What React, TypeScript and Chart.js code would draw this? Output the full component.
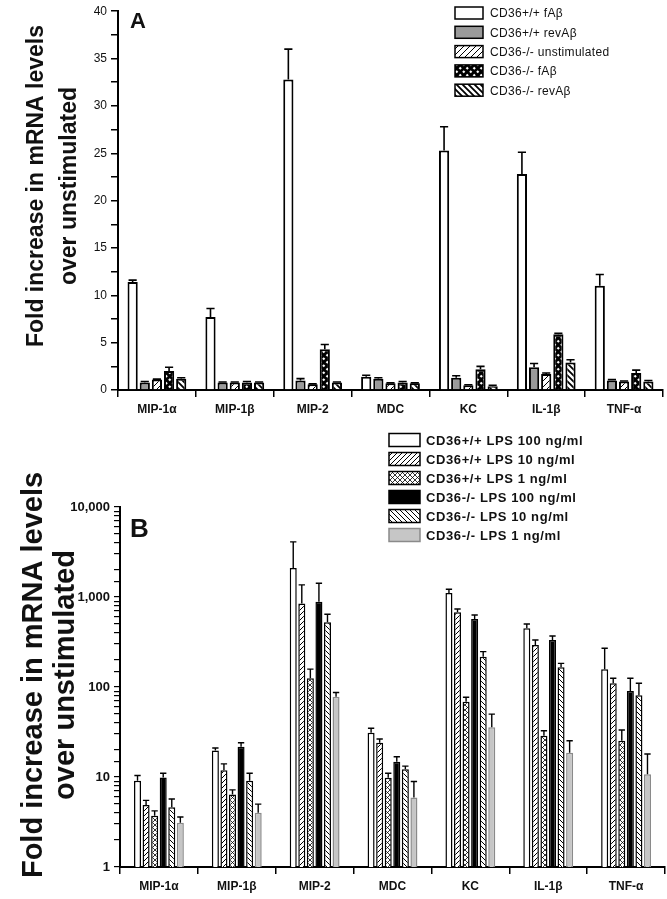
import React, { useEffect, useRef } from 'react';
import { Chart, registerables } from 'chart.js';
Chart.register(...registerables);

const FONT = "'Liberation Sans', Arial, Helvetica, sans-serif";

const categories = ['MIP-1α', 'MIP-1β', 'MIP-2', 'MDC', 'KC', 'IL-1β', 'TNF-α'];

// ---------- Panel A (linear) ----------
const seriesA = ['CD36+/+ fAβ', 'CD36+/+ revAβ', 'CD36-/- unstimulated', 'CD36-/- fAβ', 'CD36-/- revAβ'];
const aWtFab = [11.4, 7.7, 32.8, 1.4, 25.3, 22.8, 11.0];
const aWtFabErr = [11.6, 8.6, 36.0, 1.55, 27.8, 25.1, 12.2];
const aWtRev = [0.8, 0.8, 1.0, 1.2, 1.3, 2.4, 1.0];
const aWtRevErr = [0.9, 0.85, 1.2, 1.3, 1.5, 2.8, 1.1];
const aKoUnstim = [1.1, 0.8, 0.6, 0.7, 0.5, 1.7, 0.9];
const aKoUnstimErr = [1.15, 0.85, 0.65, 0.75, 0.55, 1.8, 0.95];
const aKoFab = [2.0, 0.8, 4.3, 0.8, 2.2, 5.9, 1.8];
const aKoFabErr = [2.4, 0.9, 4.8, 0.9, 2.5, 6.0, 2.1];
const aKoRev = [1.2, 0.8, 0.8, 0.7, 0.4, 2.9, 0.9];
const aKoRevErr = [1.3, 0.85, 0.85, 0.75, 0.5, 3.2, 1.0];
const aTickMax = 40;
const aTickStep = 2.5;
const aLabelStep = 5;

// ---------- Panel B (log) ----------
const seriesB = [
  'CD36+/+ LPS 100 ng/ml',
  'CD36+/+ LPS 10 ng/ml',
  'CD36+/+ LPS 1 ng/ml',
  'CD36-/- LPS 100 ng/ml',
  'CD36-/- LPS 10 ng/ml',
  'CD36-/- LPS 1 ng/ml',
];
const bWt100 = [9.1, 19.7, 2100, 31, 1110, 449, 157];
const bWt100Err = [10.4, 21, 4100, 34.8, 1217, 501, 269];
const bWt10 = [4.9, 11.9, 845, 24, 676, 293, 110];
const bWt10Err = [5.5, 14, 1365, 26.4, 736, 333, 125];
const bWt1 = [3.7, 6.4, 125, 9.8, 68.7, 28.8, 25.3];
const bWt1Err = [4.2, 7.2, 158, 11, 76.8, 32.7, 33.3];
const bKo100 = [9.9, 21.7, 887, 14.8, 570, 333, 90];
const bKo100Err = [11, 24, 1420, 16.8, 631, 369, 125];
const bKo10 = [4.6, 9.1, 523, 12.2, 217, 166, 80.8];
const bKo10Err = [5.7, 11, 642, 13.2, 247, 183, 110];
const bKo1 = [3.1, 4.0, 78, 5.9, 35.7, 18.6, 10.7];
const bKo1Err = [3.6, 5.0, 87, 8.9, 50, 25.3, 18];
const bMin = 1;
const bMax = 10000;

// ---------- patterns ----------
function linePattern(size: number, bg: string, fg: string, lw: number, dirs: string[]) {
  const c = document.createElement('canvas');
  c.width = size;
  c.height = size;
  const g = c.getContext('2d')!;
  g.fillStyle = bg;
  g.fillRect(0, 0, size, size);
  g.strokeStyle = fg;
  g.lineWidth = lw;
  for (const d of dirs) {
    g.beginPath();
    if (d === '/') {
      g.moveTo(0, size); g.lineTo(size, 0);
      g.moveTo(-size / 2, size / 2); g.lineTo(size / 2, -size / 2);
      g.moveTo(size / 2, size * 1.5); g.lineTo(size * 1.5, size / 2);
    } else {
      g.moveTo(0, 0); g.lineTo(size, size);
      g.moveTo(-size / 2, size / 2); g.lineTo(size / 2, size * 1.5);
      g.moveTo(size / 2, -size / 2); g.lineTo(size * 1.5, size / 2);
    }
    g.stroke();
  }
  return g.createPattern(c, 'repeat')!;
}

function dotPattern(size: number) {
  const c = document.createElement('canvas');
  c.width = size;
  c.height = size;
  const g = c.getContext('2d')!;
  g.fillStyle = '#000';
  g.fillRect(0, 0, size, size);
  g.fillStyle = '#fff';
  const r = size * 0.22;
  for (const [cx, cy] of [[size * 0.25, size * 0.25], [size * 0.75, size * 0.75]]) {
    g.beginPath();
    g.moveTo(cx, cy - r); g.lineTo(cx + r, cy); g.lineTo(cx, cy + r); g.lineTo(cx - r, cy);
    g.closePath();
    g.fill();
  }
  return g.createPattern(c, 'repeat')!;
}

// ---------- plugins ----------
function errPlugin(tops: number[][], lw: number, capRatio: number) {
  return {
    id: 'errBars',
    afterDatasetsDraw(chart: any) {
      const ctx = chart.ctx;
      const yScale = chart.scales.y;
      ctx.save();
      ctx.strokeStyle = '#000';
      ctx.lineWidth = lw;
      tops.forEach((arr, di) => {
        const meta = chart.getDatasetMeta(di);
        meta.data.forEach((bar: any, j: number) => {
          const top = arr[j];
          const val = chart.data.datasets[di].data[j];
          if (top == null || top <= val) return;
          const { x, y, width } = bar.getProps(['x', 'y', 'width'], true);
          const ey = yScale.getPixelForValue(top);
          const hw = (width * capRatio) / 2;
          ctx.beginPath();
          ctx.moveTo(x, y);
          ctx.lineTo(x, ey);
          ctx.moveTo(x - hw, ey);
          ctx.lineTo(x + hw, ey);
          ctx.stroke();
        });
      });
      ctx.restore();
    },
  };
}

function decorPlugin(cfg: any) {
  return {
    id: 'decor',
    afterDraw(chart: any) {
      const ctx = chart.ctx;
      ctx.save();
      // panel letter
      ctx.fillStyle = '#111';
      ctx.font = cfg.letterFont;
      ctx.textAlign = 'left';
      ctx.textBaseline = 'alphabetic';
      ctx.fillText(cfg.letter, cfg.letterX, cfg.letterY);
      // y title
      ctx.font = cfg.titleFont;
      ctx.textAlign = 'center';
      ctx.textBaseline = 'middle';
      cfg.titleLines.forEach((l: string, i: number) => {
        ctx.save();
        ctx.translate(cfg.titleXs[i], cfg.titleCY);
        ctx.rotate(-Math.PI / 2);
        ctx.fillText(l, 0, 0);
        ctx.restore();
      });
      // legend
      chart.data.datasets.forEach((ds: any, i: number) => {
        const cy = cfg.legY0 + i * cfg.legDY;
        const bx = cfg.legBoxX;
        const by = cy - cfg.legBoxH / 2;
        ctx.fillStyle = ds.backgroundColor;
        ctx.fillRect(bx, by, cfg.legBoxW, cfg.legBoxH);
        ctx.strokeStyle = ds.legendStroke || '#000';
        ctx.lineWidth = cfg.legLW;
        ctx.strokeRect(bx, by, cfg.legBoxW, cfg.legBoxH);
        ctx.fillStyle = '#111';
        ctx.font = cfg.legFont;
        try { (ctx as any).letterSpacing = cfg.legSpacing; } catch (e) {}
        ctx.textAlign = 'left';
        ctx.textBaseline = 'middle';
        ctx.fillText(ds.label, cfg.legTextX, cy + 1);
        try { (ctx as any).letterSpacing = '0px'; } catch (e) {}
      });
      ctx.restore();
    },
  };
}

const titleLines = ['Fold increase in mRNA levels', 'over unstimulated'];

export default function App() {
  const refA = useRef<HTMLCanvasElement>(null);
  const refB = useRef<HTMLCanvasElement>(null);

  useEffect(() => {
    const fillsA = [
      '#ffffff',
      '#9a9a9a',
      linePattern(6, '#fff', '#000', 1, ['/']),
      dotPattern(7),
      linePattern(6, '#fff', '#000', 1.8, ['\\']),
    ];
    const valsA = [aWtFab, aWtRev, aKoUnstim, aKoFab, aKoRev];
    const errsA = [aWtFabErr, aWtRevErr, aKoUnstimErr, aKoFabErr, aKoRevErr];

    const chartA = new Chart(refA.current!, {
      type: 'bar',
      data: {
        labels: categories,
        datasets: seriesA.map((label, i) => ({
          label,
          data: valsA[i],
          backgroundColor: fillsA[i],
          borderColor: '#000',
          borderWidth: 2,
          categoryPercentage: 0.78,
          barPercentage: 0.84,
        })),
      },
      options: {
        responsive: false,
        animation: false,
        events: [],
        layout: { padding: { top: 8, right: 4, left: 0, bottom: 0 } },
        plugins: { legend: { display: false }, tooltip: { enabled: false } },
        scales: {
          x: {
            grid: { offset: true, drawOnChartArea: false, tickLength: 7, color: '#000', lineWidth: 1.5 },
            border: { color: '#000', width: 2 },
            ticks: { font: { family: FONT, size: 12, weight: 'bold' }, color: '#111', padding: 5, maxRotation: 0 },
            afterFit: (s: any) => { s.height = 40; },
          },
          y: {
            min: 0,
            max: aTickMax,
            grid: { drawOnChartArea: false, tickLength: 7, color: '#000', lineWidth: 1.5 },
            border: { color: '#000', width: 2 },
            ticks: {
              stepSize: aTickStep,
              autoSkip: false,
              callback: (v: any) => (Number(v) % aLabelStep === 0 ? String(v) : ''),
              font: { family: FONT, size: 12 },
              color: '#111',
              padding: 4,
            },
            afterFit: (s: any) => { s.width = 118; },
          },
        },
      } as any,
      plugins: [
        errPlugin(errsA, 1.6, 0.8),
        decorPlugin({
          letter: 'A', letterFont: `bold 22px ${FONT}`, letterX: 130, letterY: 28,
          titleLines, titleFont: `bold 23px ${FONT}`, titleXs: [37, 70], titleCY: 186,
          legY0: 13, legDY: 19.3, legBoxX: 455, legBoxW: 28, legBoxH: 12, legLW: 1.5,
          legTextX: 490, legFont: `12px ${FONT}`, legSpacing: '0.3px',
        }),
      ],
    } as any);

    const fillsB = [
      '#ffffff',
      linePattern(5, '#fff', '#000', 1, ['/']),
      linePattern(5, '#fff', '#000', 0.8, ['/', '\\']),
      '#000000',
      linePattern(5, '#fff', '#000', 1, ['\\']),
      '#c6c6c6',
    ];
    const valsB = [bWt100, bWt10, bWt1, bKo100, bKo10, bKo1];
    const errsB = [bWt100Err, bWt10Err, bWt1Err, bKo100Err, bKo10Err, bKo1Err];

    const chartB = new Chart(refB.current!, {
      type: 'bar',
      data: {
        labels: categories,
        datasets: seriesB.map((label, i) => ({
          label,
          data: valsB[i],
          backgroundColor: fillsB[i],
          borderColor: i === 5 ? '#8a8a8a' : '#000',
          legendStroke: i === 5 ? '#8a8a8a' : '#000',
          borderWidth: 1.5,
          categoryPercentage: 0.66,
          barPercentage: 0.82,
        })),
      },
      options: {
        responsive: false,
        animation: false,
        events: [],
        layout: { padding: { top: 77, right: 2, left: 0, bottom: 0 } },
        plugins: { legend: { display: false }, tooltip: { enabled: false } },
        scales: {
          x: {
            grid: { offset: true, drawOnChartArea: false, tickLength: 7, color: '#000', lineWidth: 1.5 },
            border: { color: '#000', width: 2 },
            ticks: { font: { family: FONT, size: 12, weight: 'bold' }, color: '#111', padding: 5, maxRotation: 0 },
            afterFit: (s: any) => { s.height = 32; },
          },
          y: {
            type: 'logarithmic',
            min: bMin,
            max: bMax,
            grid: { drawOnChartArea: false, tickLength: 6, color: '#000', lineWidth: 1.2 },
            border: { color: '#000', width: 2 },
            ticks: {
              autoSkip: false,
              callback: (v: any) => {
                const l = Math.log10(Number(v));
                return Math.abs(l - Math.round(l)) < 1e-9 ? Number(v).toLocaleString('en-US') : '';
              },
              font: { family: FONT, size: 13, weight: 'bold' },
              color: '#111',
              padding: 4,
            },
            afterFit: (s: any) => { s.width = 120; },
          },
        },
      } as any,
      plugins: [
        errPlugin(errsB, 1.4, 0.9),
        decorPlugin({
          letter: 'B', letterFont: `bold 26px ${FONT}`, letterX: 130, letterY: 107,
          titleLines, titleFont: `bold 29px ${FONT}`, titleXs: [34, 66], titleCY: 245,
          legY0: 10, legDY: 19, legBoxX: 389, legBoxW: 31, legBoxH: 13, legLW: 1.5,
          legTextX: 426, legFont: `bold 13px ${FONT}`, legSpacing: '0.6px',
        }),
      ],
    } as any);

    return () => {
      chartA.destroy();
      chartB.destroy();
    };
  }, []);

  return (
    <div style={{ position: 'absolute', left: 0, top: 0, width: 667, height: 899, background: '#fff' }}>
      <canvas ref={refA} width={667} height={430} style={{ position: 'absolute', left: 0, top: 0 }} />
      <canvas ref={refB} width={667} height={469} style={{ position: 'absolute', left: 0, top: 430 }} />
    </div>
  );
}
